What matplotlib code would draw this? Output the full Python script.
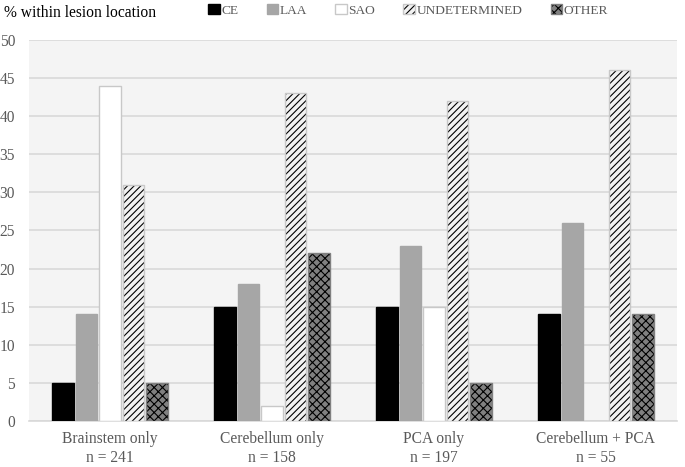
import numpy as np
import matplotlib
matplotlib.use("Agg")
import matplotlib.pyplot as plt
from matplotlib.patches import Patch

categories = ["Brainstem only\nn = 241", "Cerebellum only\nn = 158",
              "PCA only\nn = 197", "Cerebellum + PCA\nn = 55"]
series = ["CE", "LAA", "SAO", "UNDETERMINED", "OTHER"]
ce = [5, 15, 15, 14]
laa = [14, 18, 23, 26]
sao = [44, 2, 15, 0]
undetermined = [31, 43, 42, 46]
other = [5, 22, 5, 14]
values = [ce, laa, sao, undetermined, other]

faces = ["#000000", "#a6a6a6", "#ffffff", "#f2f2f2", "#808080"]
hatches = [None, None, None, "/////", "xxxx"]
edges = ["#000000", "#a6a6a6", "#c8c8c8", "#c8c8c8", "#808080"]

plt.rcParams["font.family"] = ["Liberation Serif", "DejaVu Serif"]
plt.rcParams["hatch.linewidth"] = 0.8

fig = plt.figure(figsize=(6.85, 4.67), dpi=100)
ax = fig.add_axes([0.0423, 0.0985, 0.946, 0.816])
ax.set_facecolor("#f4f4f4")

x = np.arange(len(categories))
w = 0.145
for i, (name, vals) in enumerate(zip(series, values)):
    pos = x + (i - 2) * w
    bars = ax.bar(pos, vals, width=w * 0.93, color=faces[i], edgecolor=edges[i],
                  linewidth=1.0, hatch=hatches[i], zorder=3, label=name)
    if hatches[i]:
        for b in bars:
            b._hatch_color = (0, 0, 0, 1)

ax.set_ylim(0, 50)
ax.set_yticks(range(0, 51, 5))
ax.set_xlim(-0.5, 3.5)
ax.set_xticks(x)
ax.set_xticklabels(categories, fontsize=11.2, color="#595959", linespacing=1.3)
ax.tick_params(axis="y", labelsize=11.2, labelcolor="#595959", length=0, pad=10)
ax.tick_params(axis="x", length=0, pad=7)
ax.grid(axis="y", color="#d9d9d9", linewidth=1.2, zorder=0)
for s in ["top", "right", "left"]:
    ax.spines[s].set_visible(False)
ax.spines["bottom"].set_color("#d9d9d9")
ax.spines["bottom"].set_linewidth(1.2)

fig.text(0.006, 0.972, "% within lesion location", fontsize=11.2, color="#000000", va="center")

# legend handles, hatch drawn in black like the bars
handles = []
for i in range(len(series)):
    p = Patch(facecolor=faces[i], edgecolor=edges[i], hatch=hatches[i], label=series[i])
    if hatches[i]:
        p._hatch_color = (0, 0, 0, 1)
    handles.append(p)
leg = fig.legend(handles=handles, loc="center", bbox_to_anchor=(0.596, 0.978), ncol=5,
                 frameon=False, fontsize=9.6, handlelength=0.85, handleheight=0.85,
                 handletextpad=0.15, columnspacing=2.1)
for t in leg.get_texts():
    t.set_color("#595959")

fig.savefig("out.png", dpi=100)
